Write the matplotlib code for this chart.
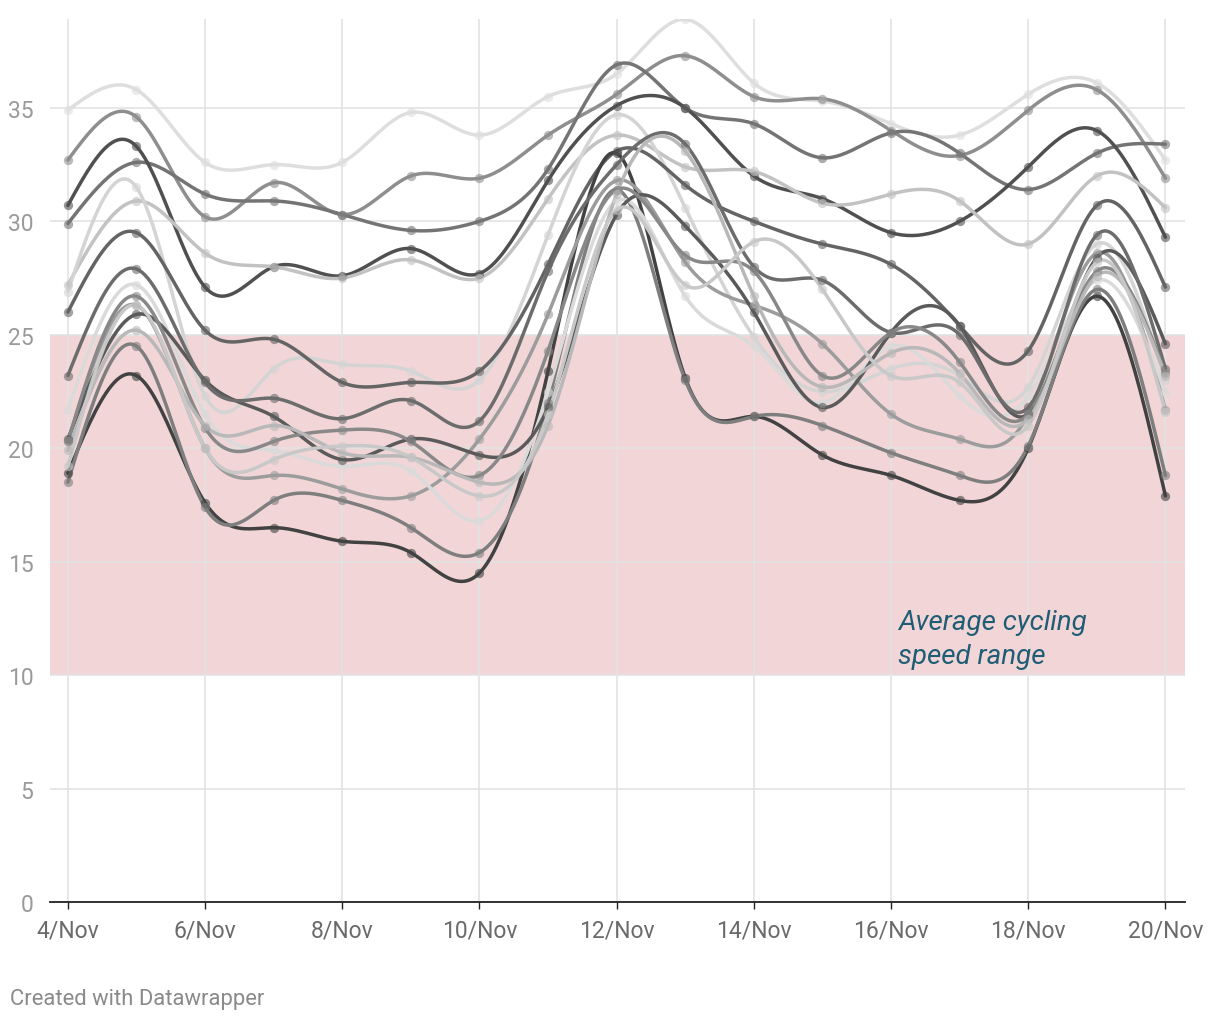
import numpy as np
import matplotlib
matplotlib.use("Agg")
import matplotlib.pyplot as plt

plt.rcParams["font.family"] = ["Roboto", "DejaVu Sans"]

# data: daily values, 4/Nov .. 20/Nov
days = list(range(4, 21))
tick_days = [4, 6, 8, 10, 12, 14, 16, 18, 20]
tick_labels = ["4/Nov", "6/Nov", "8/Nov", "10/Nov", "12/Nov", "14/Nov", "16/Nov", "18/Nov", "20/Nov"]

s01 = [34.9, 35.8, 32.6, 32.5, 32.6, 34.8, 33.8, 35.5, 36.5, 38.9, 36.1, 35.3, 34.3, 33.8, 35.6, 36.1, 32.7]
s02 = [32.7, 34.6, 30.2, 31.7, 30.3, 32.0, 31.9, 33.8, 35.6, 37.3, 35.5, 35.4, 34.0, 32.9, 34.9, 35.8, 31.9]
s03 = [29.9, 32.6, 31.2, 30.9, 30.3, 29.6, 30.0, 32.3, 36.9, 35.0, 34.3, 32.8, 33.9, 33.0, 31.4, 33.0, 33.4]
s04 = [30.7, 33.3, 27.1, 28.0, 27.6, 28.8, 27.7, 31.8, 35.1, 35.0, 32.0, 31.0, 29.5, 30.0, 32.4, 34.0, 29.3]
s05 = [27.2, 30.9, 28.6, 28.0, 27.5, 28.3, 27.5, 31.0, 33.8, 32.4, 32.2, 30.8, 31.2, 30.9, 29.0, 32.0, 30.6]
s06 = [26.9, 31.5, 22.3, 23.5, 23.7, 23.4, 23.0, 29.4, 34.7, 30.6, 24.9, 22.5, 23.5, 23.2, 22.7, 29.0, 23.0]
s07 = [26.0, 29.5, 25.2, 24.8, 22.9, 22.9, 23.4, 28.1, 33.1, 31.6, 30.0, 29.0, 28.1, 25.4, 24.3, 30.7, 27.1]
s08 = [18.9, 23.2, 17.6, 16.5, 15.9, 15.4, 14.5, 23.4, 33.0, 23.1, 21.4, 19.7, 18.8, 17.7, 20.0, 26.7, 17.9]
s09 = [18.5, 24.5, 17.4, 17.7, 17.7, 16.5, 15.4, 22.0, 31.4, 23.0, 21.4, 21.0, 19.8, 18.8, 20.1, 27.0, 18.8]
s10 = [20.3, 26.3, 20.0, 18.8, 18.2, 17.9, 20.4, 25.9, 31.8, 28.2, 26.3, 24.6, 21.5, 20.4, 21.5, 28.6, 21.7]
s11 = [21.7, 27.2, 21.5, 19.9, 19.2, 19.0, 16.8, 22.5, 30.9, 26.7, 24.5, 22.0, 24.5, 22.3, 22.3, 27.4, 22.5]
s12 = [20.4, 25.9, 23.0, 21.4, 19.5, 20.4, 19.7, 21.8, 30.3, 29.8, 26.0, 21.8, 25.1, 25.4, 21.5, 28.4, 24.6]
s13 = [23.2, 27.9, 22.9, 22.2, 21.3, 22.1, 21.2, 27.8, 32.5, 33.4, 28.0, 27.4, 25.1, 25.0, 21.8, 29.4, 23.5]
s14 = [20.3, 26.7, 20.9, 20.3, 20.8, 20.3, 18.8, 24.3, 31.4, 28.5, 27.8, 23.2, 25.1, 23.8, 21.5, 27.8, 23.3]
s15 = [19.9, 25.2, 21.0, 21.0, 19.8, 19.6, 18.5, 21.0, 31.2, 33.1, 26.7, 22.7, 24.2, 23.3, 21.3, 27.6, 23.2]
s16 = [19.2, 26.3, 20.0, 19.5, 20.1, 19.6, 17.9, 21.5, 30.5, 27.2, 29.1, 27.0, 23.2, 22.9, 21.0, 28.2, 21.6]

series = [s01, s02, s03, s04, s05, s06, s07, s08, s09, s10, s11, s12, s13, s14, s15, s16]
colors = ["#dedede", "#8e8e8e", "#747474", "#505050", "#c2c2c2", "#d4d4d4", "#646464", "#424242",
          "#7e7e7e", "#9c9c9c", "#dadada", "#5a5a5a", "#6c6c6c", "#888888", "#b8b8b8", "#c8c8c8"]


def natural_spline(x, y, n=400):
    x = np.asarray(x, float)
    y = np.asarray(y, float)
    k = len(x)
    h = np.diff(x)
    A = np.zeros((k, k))
    r = np.zeros(k)
    A[0, 0] = A[-1, -1] = 1
    for i in range(1, k - 1):
        A[i, i - 1] = h[i - 1]
        A[i, i] = 2 * (h[i - 1] + h[i])
        A[i, i + 1] = h[i]
        r[i] = 6 * ((y[i + 1] - y[i]) / h[i] - (y[i] - y[i - 1]) / h[i - 1])
    M = np.linalg.solve(A, r)
    xs = np.linspace(x[0], x[-1], n)
    idx = np.clip(np.searchsorted(x, xs) - 1, 0, k - 2)
    x0, x1 = x[idx], x[idx + 1]
    hh = x1 - x0
    a = (x1 - xs) / hh
    b = (xs - x0) / hh
    ys = a * y[idx] + b * y[idx + 1] + ((a ** 3 - a) * M[idx] + (b ** 3 - b) * M[idx + 1]) * hh ** 2 / 6
    return xs, ys


fig = plt.figure(figsize=(12.2, 10.2), dpi=100)
ax = fig.add_axes([0.041, 0.1147, 0.930, 0.8653])

ax.axhspan(10, 25, color="#f2d6d7", zorder=0, lw=0)

for s, c in zip(series, colors):
    xs, ys = natural_spline(days, s)
    ax.plot(xs, ys, color=c, lw=2.5, zorder=3, solid_capstyle="round")
    ax.scatter(days, s, s=45, color=c, alpha=0.6, zorder=4, lw=0)

ax.set_xlim(3.74, 20.28)
ax.set_ylim(0, 38.9)
ax.set_yticks([0, 5, 10, 15, 20, 25, 30, 35])
ax.set_xticks(tick_days)
ax.set_xticklabels(tick_labels)
ax.grid(True, color="#e3e3e3", lw=1.2, zorder=1)
ax.set_axisbelow(True)
for sp in ["top", "right", "left"]:
    ax.spines[sp].set_visible(False)
ax.spines["bottom"].set_color("#222222")
ax.spines["bottom"].set_linewidth(1.3)
ax.spines["bottom"].set_zorder(5)
ax.tick_params(axis="y", length=0, pad=12, labelsize=16.5, labelcolor="#9a9a9a")
ax.tick_params(axis="x", length=5, width=1, color="#222222", pad=7, labelsize=16.5, labelcolor="#6a6a6a")

ax.text(16.1, 11.6, "Average cycling\nspeed range", fontsize=20, style="italic",
        color="#1f5d75", linespacing=1.38, va="center", ha="left", zorder=6)

fig.text(0.008, 0.015, "Created with Datawrapper", fontsize=15.8, color="#8a8a8a")

fig.savefig("out.png", dpi=100)
